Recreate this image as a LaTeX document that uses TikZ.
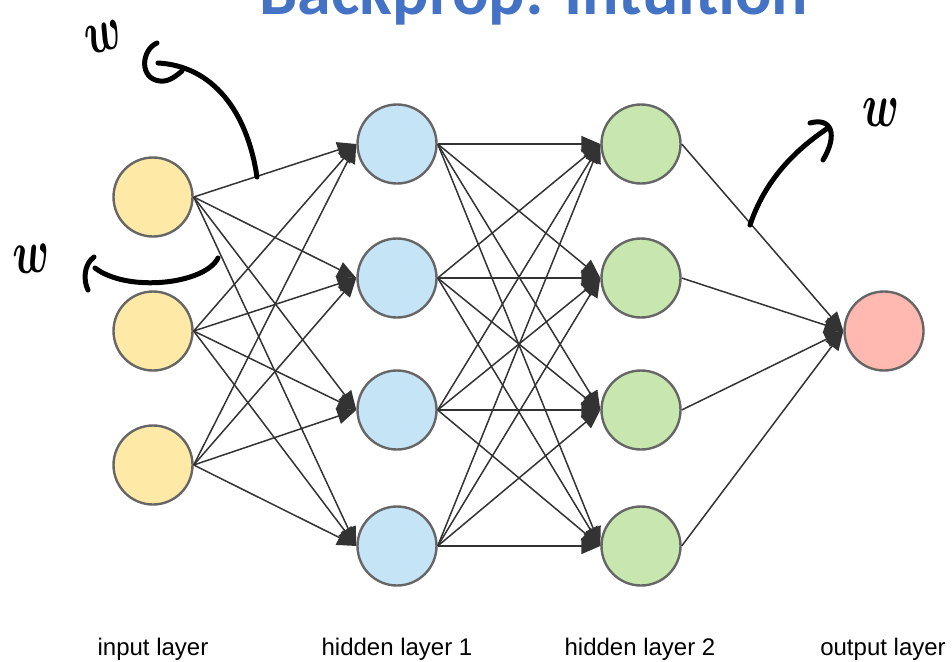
\documentclass[tikz,border=0pt]{standalone}
\usepackage{fontspec}
\setmainfont{Liberation Sans}
\newfontfamily\titlefont{Carlito}
\usetikzlibrary{arrows.meta}

\definecolor{inyellow}{HTML}{FFE9A6}
\definecolor{hblue}{HTML}{C5E4F6}
\definecolor{hgreen}{HTML}{C7E7AE}
\definecolor{outred}{HTML}{FFB9B0}
\definecolor{ringgray}{HTML}{666666}
\definecolor{edgegray}{HTML}{333333}
\definecolor{titleblue}{HTML}{4472C4}

\begin{document}
\begin{tikzpicture}[x=1pt,y=-1pt,
  neuron/.style={circle, draw=ringgray, line width=2.4pt, minimum size=79pt, inner sep=0pt},
  conn/.style={draw=edgegray, line width=1.5pt, -{Triangle[length=19pt,width=16pt]}},
  ink/.style={line width=5pt, line cap=round, line join=round},
  layerlabel/.style={anchor=base, font=\fontsize{24}{28}\selectfont, text=black},
  wlabel/.style={font=\boldmath, inner sep=0pt, scale=4.3}]

\clip (0,0) rectangle (952,661);

% title, partly above the page
\node[anchor=base, font=\titlefont\bfseries\fontsize{68}{68}\selectfont, text=titleblue] (title) at (534,15) {Backprop: Intuition};

% input layer
\node[neuron, fill=inyellow] (i1) at (153,197) {};
\node[neuron, fill=inyellow] (i2) at (153,331) {};
\node[neuron, fill=inyellow] (i3) at (153,465) {};

% hidden layer 1
\node[neuron, fill=hblue] (a1) at (397,144) {};
\node[neuron, fill=hblue] (a2) at (397,278) {};
\node[neuron, fill=hblue] (a3) at (397,410) {};
\node[neuron, fill=hblue] (a4) at (397,546) {};

% hidden layer 2
\node[neuron, fill=hgreen] (b1) at (641,144) {};
\node[neuron, fill=hgreen] (b2) at (641,278) {};
\node[neuron, fill=hgreen] (b3) at (641,410) {};
\node[neuron, fill=hgreen] (b4) at (641,546) {};

% output layer
\node[neuron, fill=outred] (o1) at (884,331) {};

% fully connected layers
\foreach \s in {i1,i2,i3}
  \foreach \t in {a1,a2,a3,a4}
    \draw[conn] (\s.east) -- (\t.west);
\foreach \s in {a1,a2,a3,a4}
  \foreach \t in {b1,b2,b3,b4}
    \draw[conn] (\s.east) -- (\t.west);
\foreach \s in {b1,b2,b3,b4}
  \draw[conn] (\s.east) -- (o1.west);

% layer captions
\node[layerlabel] (lin) at (153,655) {input layer};
\node[layerlabel] (lh1) at (397,655) {hidden layer 1};
\node[layerlabel] (lh2) at (640,655) {hidden layer 2};
\node[layerlabel] (lout) at (883,655) {output layer};

% handwritten weight annotations
\draw[ink] (257,177) .. controls (247,110) and (212,66) .. (158,63);
\draw[ink] (157,43) .. controls (141,50) and (139,79) .. (160,81) .. controls (168,82) and (175,77) .. (182,71);
\node[wlabel, rotate=15, yscale=1.45] (w1) at (104,37) {$w$};

\draw[ink] (218,258) .. controls (205,284) and (128,293) .. (95,268);
\draw[ink] (94,257) .. controls (84,264) and (83,280) .. (88,290);
\node[wlabel, rotate=5, yscale=1.45] (w2) at (32,259) {$w$};

\draw[ink] (750,225) .. controls (765,180) and (795,150) .. (828,128);
\draw[ink] (810,123) .. controls (832,117) and (838,135) .. (823,160);
\node[wlabel, yscale=1.45] (w3) at (881,113) {$w$};
\end{tikzpicture}
\end{document}
